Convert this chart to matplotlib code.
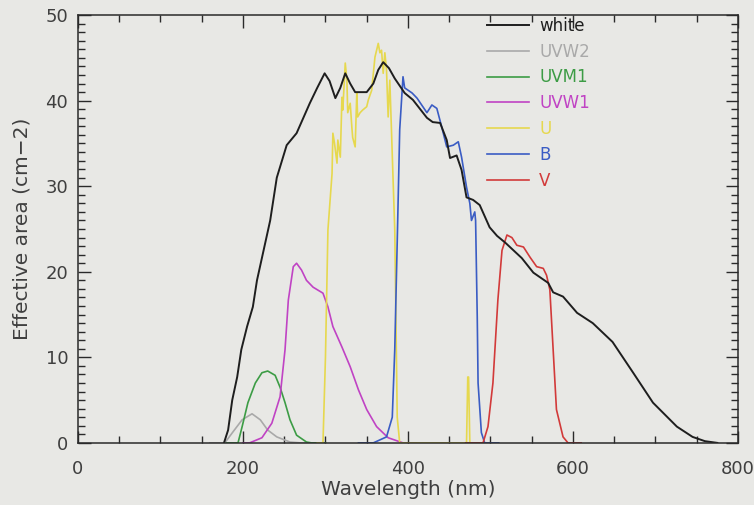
import numpy as np
import matplotlib.pyplot as plt
import matplotlib.transforms as mtrans
from matplotlib.ticker import MultipleLocator

# effective area curves (nm, cm^2)
white_x = [177, 182, 187, 193, 198, 205, 212, 217, 225, 233, 241, 253, 265, 281, 290, 299,
           305, 312, 318, 324, 330, 336, 350, 358, 364, 370, 377, 384, 396, 406, 423, 430,
           439, 447, 451, 459, 465, 471, 479, 487, 499, 508, 518, 538, 552, 570, 576, 588,
           605, 624, 648, 673, 697, 726, 745, 760, 775]
white_y = [0, 1.5, 5, 7.7, 10.9, 13.6, 15.9, 19, 22.5, 26, 31, 34.8, 36.2, 39.7, 41.5, 43.2,
           42.3, 40.3, 41.5, 43.2, 42.0, 41.0, 41.0, 42.0, 43.6, 44.5, 43.8, 42.6, 40.9, 40.1, 38.0, 37.5,
           37.4, 35.4, 33.3, 33.6, 31.9, 28.7, 28.4, 27.8, 25.2, 24.2, 23.4, 21.6, 19.9, 18.7, 17.6, 17.1,
           15.2, 14.0, 11.8, 8.2, 4.7, 1.9, 0.7, 0.2, 0]

uvw2_x = [160, 178, 188, 199, 211, 221, 230, 241, 257, 270, 300]
uvw2_y = [0, 0, 1.3, 2.7, 3.4, 2.7, 1.5, 0.7, 0.1, 0, 0]

uvm1_x = [180, 194, 199, 206, 215, 223, 230, 239, 245, 251, 257, 265, 277, 283, 300]
uvm1_y = [0, 0, 1.9, 4.7, 7.0, 8.2, 8.4, 7.9, 6.5, 4.7, 2.7, 0.9, 0.1, 0, 0]

uvw1_x = [200, 208, 223, 235, 245, 251, 255, 261, 265, 271, 277, 285, 297, 303, 309, 320,
          330, 340, 350, 362, 376, 394, 410]
uvw1_y = [0, 0, 0.6, 2.3, 5.4, 10.9, 16.7, 20.6, 21.0, 20.2, 19.0, 18.2, 17.5, 15.9, 13.6, 11.2,
          8.9, 6.2, 3.9, 1.9, 0.6, 0, 0]

u_x = [290, 297, 300, 303, 308, 309, 311, 314, 315, 318, 320, 321, 324, 326, 327, 330,
       332, 333, 336, 338, 339, 342, 345, 350, 352, 356, 360, 364, 366, 368, 370, 372,
       374, 376, 378, 380, 382, 384, 385.5, 387, 390, 471, 472.5, 473.5, 475, 500]
u_y = [0, 0, 10, 24.9, 31.5, 36.2, 35, 32.7, 35.4, 33.4, 40.4, 38.9, 44.4, 42.4, 38.6, 39.7,
       36.9, 35.7, 34.6, 40.9, 38.1, 38.6, 38.9, 39.3, 40.1, 41.2, 45.1, 46.7, 45.6, 45.9, 43.2, 45.6,
       43.6, 38.1, 42.4, 36.6, 30.7, 24.9, 14, 3, 0, 0, 7.7, 7.7, 0, 0]

b_x = [340, 358, 374, 381, 384, 387, 390, 394, 396, 405, 411, 423, 429, 435, 441, 447,
       455, 461, 465, 471, 475, 477, 481, 482, 484, 485, 489, 493, 510]
b_y = [0, 0, 0.7, 3, 10.9, 23.5, 36.6, 42.8, 41.5, 40.9, 40.3, 38.6, 39.5, 39.1, 36.9, 34.6,
       34.8, 35.2, 33.4, 29.9, 28.0, 26.0, 27.0, 26.0, 14.7, 7.0, 1.2, 0, 0]

v_x = [470, 491, 497, 503, 509, 514, 520, 526, 532, 540, 548, 556, 564, 568, 572, 576,
       580, 588, 594, 610]
v_y = [0, 0, 1.9, 7.0, 16.7, 22.5, 24.3, 24.0, 23.1, 22.9, 21.7, 20.6, 20.4, 19.6, 17.9, 10.9,
       3.9, 0.7, 0, 0]

names = ["white", "UVW2", "UVM1", "UVW1", "U", "B", "V"]
colors = ["#1e1e1e", "#a9a9a9", "#3c9c45", "#c043c4", "#e6d84e", "#3a5cc4", "#d23a3a"]
curves = [(white_x, white_y), (uvw2_x, uvw2_y), (uvm1_x, uvm1_y), (uvw1_x, uvw1_y),
          (u_x, u_y), (b_x, b_y), (v_x, v_y)]

bg = "#e8e8e5"
plt.rcParams['font.family'] = ['DejaVu Sans']
fig = plt.figure(figsize=(7.54, 5.05), dpi=100, facecolor=bg)
ax = fig.add_axes([0.1034, 0.123, 0.8753, 0.847], facecolor=bg)

# filters first, white drawn last so it sits on top
order = [1, 2, 3, 4, 5, 6, 0]
lines = {}
for i in order:
    x, y = curves[i]
    lw = 1.4 if i == 0 else 1.2
    ln, = ax.plot(x, y, color=colors[i], lw=lw, label=names[i])
    lines[i] = ln

ax.set_xlim(0, 800)
ax.set_ylim(0, 50)
ax.xaxis.set_major_locator(MultipleLocator(200))
ax.xaxis.set_minor_locator(MultipleLocator(50))
ax.yaxis.set_major_locator(MultipleLocator(10))
ax.yaxis.set_minor_locator(MultipleLocator(1))
ax.tick_params(which='both', direction='in', top=True, right=True, colors='#2a2a2a',
               labelcolor='#3f3f3f', labelsize=13)
ax.tick_params(which='major', length=9, width=1)
ax.tick_params(which='minor', length=5, width=1)
ax.tick_params(axis='x', pad=12)
ax.tick_params(axis='y', pad=7)
for s in ax.spines.values():
    s.set_color('#2a2a2a')
    s.set_linewidth(1.1)

ax.set_xlabel("Wavelength (nm)", fontsize=14.5, color='#3f3f3f', labelpad=2)
ax.set_ylabel("Effective area (cm\u22122)", fontsize=14.5, color='#3f3f3f', labelpad=10)

# nudge the last x label so "800" stays inside the figure
fig.canvas.draw()
last = ax.get_xticklabels()[-1]
last.set_transform(last.get_transform() + mtrans.ScaledTranslation(-4 / 100, 0, fig.dpi_scale_trans))

leg = ax.legend([lines[i] for i in range(7)], names, loc='upper left',
                bbox_to_anchor=(0.618, 1.0), frameon=False, fontsize=12,
                handlelength=2.5, handletextpad=0.6, labelspacing=0.47,
                borderpad=0.1, borderaxespad=0, labelcolor='linecolor')

fig.savefig("out.png", dpi=100, facecolor=bg)
